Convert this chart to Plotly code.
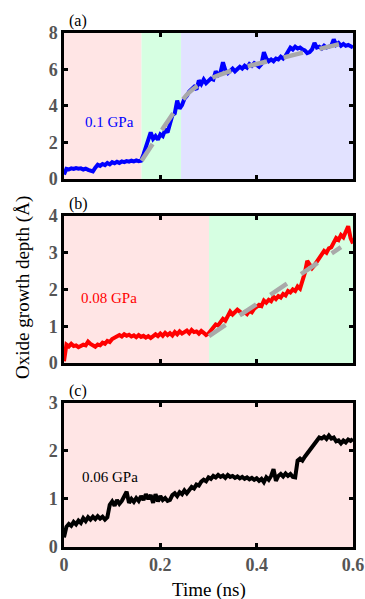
import numpy as np
import plotly.graph_objects as go

STEP = 0.005  # ns sampling of the hand-read traces

depth_a = [0.25, 0.55, 0.52, 0.58, 0.55, 0.60, 0.56, 0.58, 0.52, 0.57,
           0.50, 0.46, 0.42, 0.62, 0.78, 0.72, 0.82, 0.76, 0.88, 0.80,
           0.92, 0.86, 0.94, 0.88, 0.96, 0.92, 0.98, 0.95, 1.00, 0.96,
           1.02, 0.98, 1.00, 1.35, 1.80, 2.10, 2.55, 2.20, 2.35, 2.15,
           2.45, 2.35, 2.70, 2.55, 3.10, 3.50, 3.60, 4.30, 3.85, 4.05,
           4.40, 4.55, 4.80, 4.95, 5.05, 4.90, 5.40, 5.20, 5.45, 5.25,
           5.35, 5.50, 5.45, 5.90, 5.70, 5.85, 6.40, 5.95, 5.80, 5.95,
           6.05, 5.90, 6.00, 6.15, 6.05, 6.20, 6.10, 6.30, 6.20, 6.35,
           6.25, 6.15, 6.30, 6.95, 6.60, 6.45, 6.55, 6.45, 6.60, 6.55,
           6.70, 6.60, 6.75, 7.00, 7.20, 7.10, 7.25, 7.15, 7.20, 7.10,
           7.05, 6.90, 6.95, 7.10, 7.45, 7.20, 7.25, 7.15, 7.30, 7.20,
           7.25, 7.30, 7.65, 7.35, 7.45, 7.30, 7.40, 7.30, 7.35, 7.25,
           7.20]

depth_b = [0.05, 0.50, 0.45, 0.52, 0.46, 0.48, 0.43, 0.47, 0.50, 0.48,
           0.58, 0.52, 0.47, 0.44, 0.50, 0.48, 0.55, 0.52, 0.60, 0.57,
           0.65, 0.68, 0.72, 0.76, 0.72, 0.78, 0.74, 0.77, 0.72, 0.75,
           0.70, 0.76, 0.71, 0.74, 0.69, 0.73, 0.68, 0.72, 0.78, 0.73,
           0.80, 0.74, 0.82, 0.76, 0.81, 0.75, 0.84, 0.78, 0.86, 0.80,
           0.83, 0.88, 0.81, 0.90, 0.84, 0.86, 0.80, 0.87, 0.82, 0.76,
           0.80, 0.88, 0.96, 1.05, 1.02, 1.12, 1.20, 1.15, 1.30, 1.40,
           1.32, 1.38, 1.45, 1.40, 1.34, 1.38, 1.33, 1.42, 1.38, 1.48,
           1.52, 1.58, 1.55, 1.70, 1.64, 1.72, 1.68, 1.80, 1.74, 1.82,
           1.78, 1.88, 1.84, 1.96, 1.92, 2.00, 1.96, 2.08, 2.02, 2.20,
           2.45, 2.78, 2.70, 2.58, 2.66, 2.75, 2.88, 2.95, 3.05, 3.00,
           3.12, 3.15, 3.30, 3.40, 3.35, 3.48, 3.42, 3.55, 3.72, 3.40,
           3.25]

depth_c = [0.20, 0.42, 0.48, 0.44, 0.52, 0.47, 0.55, 0.50, 0.60, 0.54,
           0.62, 0.57, 0.63, 0.58, 0.64, 0.59, 0.63, 0.57, 0.62, 0.88,
           0.95, 0.86, 0.98, 0.90, 0.96, 1.05, 1.15, 0.92, 1.00, 0.94,
           1.02, 0.96, 1.06, 0.98, 1.10, 1.00, 1.08, 0.92, 1.10, 0.95,
           1.06, 0.98, 1.02, 0.96, 0.98, 1.08, 1.12, 1.06, 1.14, 1.10,
           1.18, 1.12, 1.20, 1.25, 1.22, 1.30, 1.28, 1.36, 1.40, 1.37,
           1.45, 1.42, 1.48, 1.45, 1.50, 1.46, 1.49, 1.44, 1.50, 1.46,
           1.48, 1.44, 1.47, 1.43, 1.46, 1.42, 1.45, 1.41, 1.44, 1.40,
           1.43, 1.38, 1.42, 1.35, 1.45, 1.40, 1.48, 1.62, 1.38, 1.48,
           1.52, 1.47, 1.53, 1.48, 1.52, 1.46, 1.45, 1.80, 1.84, 1.80,
           1.88, 1.95, 2.02, 2.08, 2.15, 2.22, 2.28, 2.26, 2.30, 2.25,
           2.32, 2.26, 2.28, 2.20, 2.22, 2.16, 2.22, 2.18, 2.24, 2.21,
           2.25]

fit_a_t = [0.161, 0.20, 0.24, 0.26, 0.30, 0.35, 0.40, 0.45, 0.50, 0.55, 0.60]
fit_a_v = [1.00, 2.55, 4.10, 4.75, 5.45, 5.95, 6.30, 6.62, 6.95, 7.25, 7.60]
fit_b_t = [0.301, 0.575]
fit_b_v = [0.73, 3.15]

regions_a = [(0.0, 0.161, "rgb(255,229,229)"), (0.161, 0.243, "rgb(214,255,226)"),
             (0.243, 0.6, "rgb(226,226,255)")]
regions_b = [(0.0, 0.301, "rgb(255,229,229)"), (0.301, 0.6, "rgb(214,255,226)")]
regions_c = [(0.0, 0.6, "rgb(255,229,229)")]

labels = ["0.1 GPa", "0.08 GPa", "0.06 GPa"]
label_pos = [(0.039, 3.12), (0.031, 1.77), (0.033, 1.46)]
label_colors = ["#0000FF", "#FF0000", "#000000"]
panel_tags = ["(a)", "(b)", "(c)"]
yranges = [(0, 8), (0, 4), (0, 3)]
ydtick = [2, 1, 1]
xticks = [0, 0.2, 0.4, 0.6]

SERIF = "Liberation Serif"
domains = [(0.716, 1.0), (0.358, 0.644), (0.0, 0.2802)]

fig = go.Figure()
series = [depth_a, depth_b, depth_c]
regions = [regions_a, regions_b, regions_c]
fits = [(fit_a_t, fit_a_v), (fit_b_t, fit_b_v), None]

for i in range(3):
    xa = "x" if i == 0 else f"x{i+1}"
    ya = "y" if i == 0 else f"y{i+1}"
    vals = series[i]
    t = np.round(np.arange(len(vals)) * STEP, 4)
    for (x0, x1, col) in regions[i]:
        fig.add_shape(type="rect", xref=xa, yref=f"{ya} domain", x0=x0, x1=x1,
                      y0=0, y1=1, fillcolor=col, line_width=0, layer="below")
    fig.add_trace(go.Scatter(x=t, y=vals, mode="lines", xaxis=xa, yaxis=ya,
                             line=dict(color=label_colors[i], width=4),
                             showlegend=False))
    if fits[i] is not None:
        ft, fv = fits[i]
        fig.add_trace(go.Scatter(x=ft, y=fv, mode="lines", xaxis=xa, yaxis=ya,
                                 line=dict(color="#A9A9A9", width=4.5,
                                           dash="20px,17px", shape="spline"),
                                 showlegend=False))
    fig.add_annotation(text=labels[i], x=label_pos[i][0], y=label_pos[i][1],
                       xref=xa, yref=ya, xanchor="left", yanchor="middle",
                       showarrow=False,
                       font=dict(family=SERIF, size=15, color=label_colors[i]))
    fig.add_annotation(text=panel_tags[i], x=0.01, y=domains[i][1],
                       xref="paper", yref="paper", xanchor="left", yanchor="bottom",
                       yshift=1, showarrow=False,
                       font=dict(family=SERIF, size=16, color="black"))

    axis_common = dict(showline=True, linecolor="black", linewidth=2.5,
                       mirror="ticks", ticks="inside", ticklen=4, tickwidth=2.5,
                       tickcolor="black", showgrid=False, zeroline=False,
                       automargin=False,
                       tickfont=dict(family=SERIF, size=18, color="#555555",
                                     weight="bold"))
    xkey = "xaxis" if i == 0 else f"xaxis{i+1}"
    ykey = "yaxis" if i == 0 else f"yaxis{i+1}"
    fig.update_layout({
        xkey: dict(axis_common, range=[0, 0.6], domain=[0, 1], anchor=ya,
                   tickvals=xticks, ticktext=["0", "0.2", "0.4", "0.6"],
                   showticklabels=(i == 2)),
        ykey: dict(axis_common, range=list(yranges[i]), dtick=ydtick[i],
                   domain=list(domains[i]), anchor=xa),
    })

fig.add_annotation(text="Oxide growth depth (Å)", x=-0.142, y=0.506,
                   xref="paper", yref="paper", textangle=-90, showarrow=False,
                   xanchor="center", yanchor="middle",
                   font=dict(family=SERIF, size=19, color="black"))
fig.add_annotation(text="Time (ns)", x=0.5, y=-0.0837, xref="paper", yref="paper",
                   showarrow=False, xanchor="center", yanchor="middle",
                   font=dict(family=SERIF, size=19, color="black"))

fig.update_layout(width=365, height=599, paper_bgcolor="white",
                  plot_bgcolor="white",
                  margin=dict(l=64, r=12, t=33, b=52, autoexpand=False))
# remove the default 8px page margin so the figure fills the window exactly
fig.write_html("out.html",
               config={"displayModeBar": False},
               post_script="document.body.style.margin='0';"
                           "document.body.style.overflow='hidden';")
